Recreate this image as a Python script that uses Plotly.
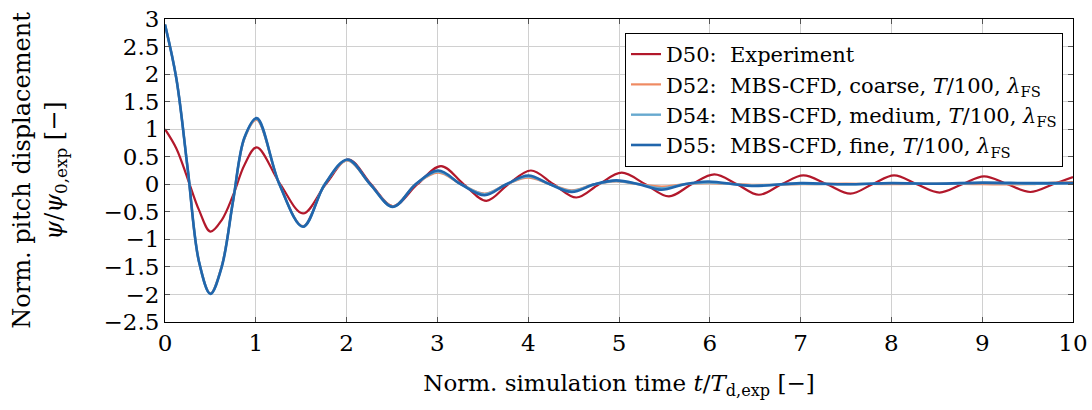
import plotly.graph_objects as go

# ---------------- data ----------------
t_d50 = [0, 0.125, 0.25, 0.375, 0.5, 0.625, 0.75, 0.875, 1.01, 1.27, 1.52, 1.77, 2.02, 2.27,
         2.51, 2.78, 3.04, 3.29, 3.54, 3.78, 4.03, 4.28, 4.53, 4.78, 5.03, 5.29, 5.55, 5.8,
         6.05, 6.3, 6.54, 6.79, 7.03, 7.29, 7.55, 7.79, 8.03, 8.28, 8.53, 8.78, 9.02, 9.28,
         9.53, 9.78, 10.0]
psi_d50 = [1.0, 0.65, 0.1, -0.47, -0.86, -0.65, -0.2, 0.35, 0.67, 0.0, -0.53, 0.0, 0.45, 0.0,
           -0.40, 0.0, 0.33, 0.0, -0.30, 0.0, 0.25, 0.0, -0.24, 0.0, 0.21, 0.0, -0.22, 0.0,
           0.18, 0.0, -0.19, 0.0, 0.16, 0.0, -0.17, 0.0, 0.16, 0.0, -0.15, 0.0, 0.145, 0.0,
           -0.14, 0.0, 0.13]

t_sim = [0, 0.125, 0.25, 0.375, 0.5, 0.625, 0.75, 0.875, 1.01, 1.26, 1.52, 1.76, 2.01,
         2.26, 2.51, 2.76, 3.01, 3.26, 3.52, 3.76, 4.0, 4.24, 4.48, 4.73, 4.97, 5.22, 5.47,
         5.72, 5.98, 6.46, 7.0, 7.5, 8.0, 8.5, 9.0, 9.5, 9.8, 10.0]
psi_d52 = [2.9, 1.92, 0.28, -1.41, -1.98, -1.48, -0.3, 0.83, 1.17, 0.0, -0.76, 0.0, 0.43,
           0.0, -0.40, 0.0, 0.21, 0.0, -0.17, 0.0, 0.12, 0.0, -0.11, 0.0, 0.05, 0.0, -0.04,
           0.0, 0.02, -0.01, 0.0, 0.01, 0.0, 0.01, 0.0, 0.0, 0.03, 0.04]
psi_d54 = [2.9, 1.92, 0.28, -1.41, -1.99, -1.49, -0.3, 0.84, 1.19, 0.0, -0.77, 0.0, 0.44,
           0.0, -0.41, 0.0, 0.23, 0.0, -0.18, 0.0, 0.14, 0.0, -0.12, 0.0, 0.06, 0.0, -0.07,
           0.0, 0.03, -0.02, 0.01, 0.0, 0.02, 0.01, 0.02, 0.01, 0.01, 0.02]
psi_d55 = [2.9, 1.92, 0.28, -1.41, -1.99, -1.5, -0.3, 0.85, 1.2, 0.0, -0.77, 0.0, 0.45,
           0.0, -0.41, 0.0, 0.25, 0.0, -0.20, 0.0, 0.16, 0.0, -0.14, 0.0, 0.07, 0.0, -0.10,
           0.0, 0.05, -0.03, 0.02, 0.0, 0.02, 0.01, 0.03, 0.02, 0.02, 0.02]

names = ["D50:  Experiment",
         "D52:  MBS-CFD, coarse, <i>T</i>/100, <i>λ</i><sub>FS</sub>",
         "D54:  MBS-CFD, medium, <i>T</i>/100, <i>λ</i><sub>FS</sub>",
         "D55:  MBS-CFD, fine, <i>T</i>/100, <i>λ</i><sub>FS</sub>"]
colors = ["#b2182b", "#ef8a62", "#67a9cf", "#2166ac"]

x_ticks = list(range(0, 11))
y_ticks = [-2.5, -2, -1.5, -1, -0.5, 0, 0.5, 1, 1.5, 2, 2.5, 3]
y_ticktext = [("−" + f"{abs(v):g}") if v < 0 else f"{v:g}" for v in y_ticks]

FONT = "DejaVu Serif"

fig = go.Figure()
series = [(t_d50, psi_d50), (t_sim, psi_d52), (t_sim, psi_d54), (t_sim, psi_d55)]
widths = [2.2, 2.2, 2.4, 2.6]
for (tx, ty), nm, c, w in zip(series, names, colors, widths):
    fig.add_trace(go.Scatter(x=tx, y=ty, mode="lines", name=nm,
                             line=dict(color=c, width=w, shape="spline", smoothing=1.0)))

fig.update_layout(
    width=1092, height=410,
    margin=dict(l=165, r=19, t=19, b=88),
    paper_bgcolor="white", plot_bgcolor="white",
    font=dict(family=FONT, size=22, color="black"),
    legend=dict(x=0.989, y=0.954, xanchor="right", yanchor="top",
                bgcolor="white", bordercolor="black", borderwidth=1,
                font=dict(family=FONT, size=21), tracegroupgap=0),
    showlegend=True,
)
fig.update_xaxes(range=[0, 10], tickvals=x_ticks, ticktext=[str(v) for v in x_ticks],
                 showgrid=True, gridcolor="#d0d0d0", gridwidth=1,
                 showline=True, linecolor="black", linewidth=1, mirror="ticks",
                 ticks="inside", ticklen=5, tickcolor="#555555", zeroline=False,
                 tickfont=dict(size=23), automargin=False,
                 title=dict(text="Norm. simulation time <i>t</i>/<i>T</i><sub>d,exp</sub> [−]",
                            font=dict(size=23), standoff=20))
fig.update_yaxes(range=[-2.5, 3], tickvals=y_ticks, ticktext=y_ticktext,
                 showgrid=True, gridcolor="#d0d0d0", gridwidth=1,
                 showline=True, linecolor="black", linewidth=1, mirror="ticks",
                 ticks="inside", ticklen=5, tickcolor="#555555", zeroline=False,
                 tickfont=dict(size=23), automargin=False,
                 title=dict(text="Norm. pitch displacement<br><i>ψ</i>/<i>ψ</i><sub>0,exp</sub> [−]",
                            font=dict(size=24), standoff=34))

fig.write_html("out.html")
